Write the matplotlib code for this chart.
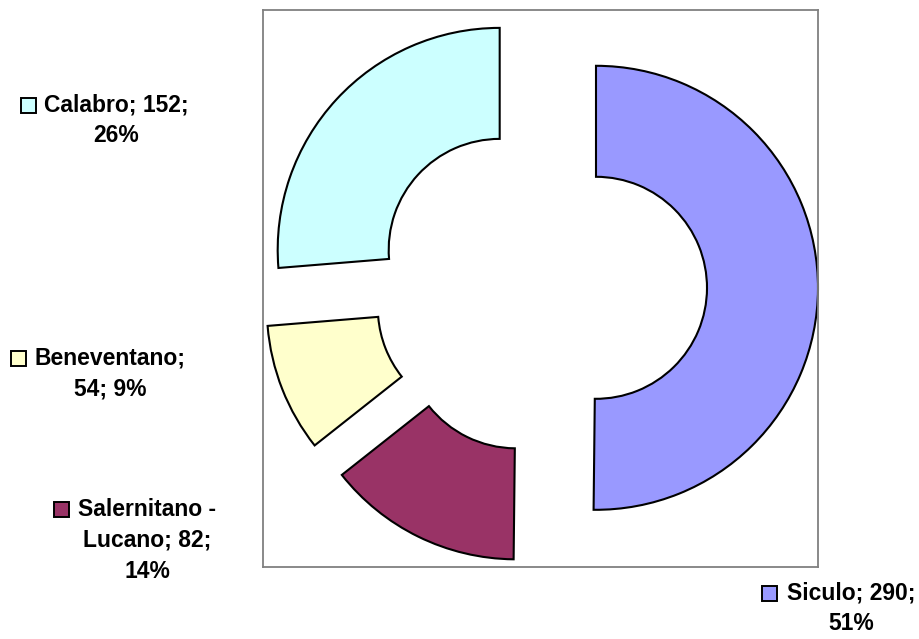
import numpy as np
import matplotlib.pyplot as plt
from matplotlib.patches import Rectangle

W, H = 919, 639

# data, clockwise from 12 o'clock
names = ['Siculo', 'Salernitano - Lucano', 'Beneventano', 'Calabro']
values = [290, 82, 54, 152]
percents = ['51%', '14%', '9%', '26%']
colors = ['#9999FF', '#993366', '#FFFFCC', '#CCFFFF']

# label lines as they wrap in the picture
label_lines = [
    ['Siculo; 290;', '51%'],
    ['Salernitano -', 'Lucano; 82;', '14%'],
    ['Beneventano;', '54; 9%'],
    ['Calabro; 152;', '26%'],
]
# (text centre x, first line y, key left x) in pixels
label_pos = [(851, 593, 762), (147, 509, 54), (110, 358, 11), (116, 105, 21)]

plt.rcParams['font.family'] = ['Liberation Sans', 'DejaVu Sans']

fig = plt.figure(figsize=(W / 100, H / 100), dpi=100)
ax = fig.add_axes([263 / W, 1 - 567 / H, 555 / W, 557 / H])

ax.pie(values, colors=colors, startangle=90, counterclock=False,
       explode=[0.25] * len(values), radius=1,
       wedgeprops=dict(width=0.5, edgecolor='black', linewidth=1.5))

ax.set_aspect('auto')
ax.set_xlim(-1.25, 1.25)
ax.set_ylim(-1.259, 1.25)
ax.set_frame_on(True)
ax.set_xticks([])
ax.set_yticks([])
for s in ax.spines.values():
    s.set_color('#808080')
    s.set_linewidth(1.3)

line_h = 31
for lines, (cx, y0, kx), col in zip(label_lines, label_pos, colors):
    for i, ln in enumerate(lines):
        fig.text(cx / W, 1 - (y0 + i * line_h) / H, ln, ha='center', va='center',
                 fontsize=16.5, fontweight='bold')
    fig.patches.append(Rectangle((kx / W, 1 - (y0 + 8) / H), 15 / W, 15 / H,
                                 transform=fig.transFigure, facecolor=col,
                                 edgecolor='black', linewidth=1.4))

fig.savefig('out.png', dpi=100)
